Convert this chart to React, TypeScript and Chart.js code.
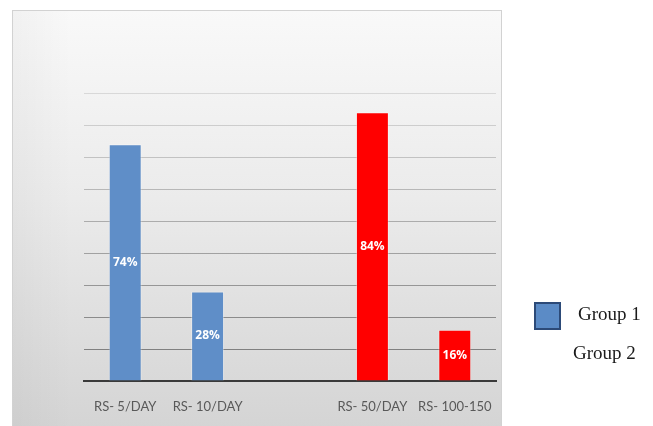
import React, { useEffect, useRef } from "react";
import { Chart, registerables } from "chart.js";

Chart.register(...registerables);

const categories = ["RS- 5/DAY", "RS- 10/DAY", "", "RS- 50/DAY", "RS- 100-150"];
const group1Values = [74, 28, null, null, null];
const group2Values = [null, null, null, 84, 16];
const seriesNames = ["Group 1", "Group 2"];
const yTicks = [0, 10, 20, 30, 40, 50, 60, 70, 80, 90];

const BLUE = "#5f8ec8";
const RED = "#ff0000";

// Gray backdrop panel behind the plot
const panelPlugin = {
  id: "panel",
  beforeDraw(chart: any) {
    const { ctx } = chart;
    const x = 12, y = 10, w = 490, h = 420;
    ctx.save();
    const g = ctx.createLinearGradient(0, y, 0, y + h);
    g.addColorStop(0, "#f9f9f9");
    g.addColorStop(0.45, "#ebebeb");
    g.addColorStop(1, "#d4d4d4");
    ctx.fillStyle = g;
    ctx.fillRect(x, y, w, h);
    const side = ctx.createLinearGradient(x, 0, x + 60, 0);
    side.addColorStop(0, "rgba(0,0,0,0.03)");
    side.addColorStop(1, "rgba(0,0,0,0)");
    ctx.fillStyle = side;
    ctx.fillRect(x, y, 60, h);
    ctx.strokeStyle = "#d2d2d2";
    ctx.lineWidth = 1;
    ctx.strokeRect(x + 0.5, y + 0.5, w - 1, h);
    ctx.restore();
  },
};

// Percent labels centred inside each bar
const barLabelPlugin = {
  id: "barLabels",
  afterDatasetsDraw(chart: any) {
    const { ctx } = chart;
    ctx.save();
    ctx.font = "bold 12px 'Open Sans', sans-serif";
    ctx.fillStyle = "#ffffff";
    ctx.textAlign = "center";
    ctx.textBaseline = "middle";
    chart.data.datasets.forEach((ds: any, di: number) => {
      const meta = chart.getDatasetMeta(di);
      meta.data.forEach((bar: any, i: number) => {
        const v = ds.data[i];
        if (v == null) return;
        const { x, y, base } = bar.getProps(["x", "y", "base"], true);
        ctx.fillText(v + "%", x, (y + base) / 2);
      });
    });
    ctx.restore();
  },
};

// Legend to the right of the panel
const sideLegendPlugin = {
  id: "sideLegend",
  afterDraw(chart: any) {
    const { ctx } = chart;
    ctx.save();
    ctx.fillStyle = "#5b8bc6";
    ctx.fillRect(534, 302, 27, 28);
    ctx.strokeStyle = "#2c4a78";
    ctx.lineWidth = 2;
    ctx.strokeRect(535, 303, 25, 26);
    ctx.font = "19px 'Liberation Serif', serif";
    ctx.fillStyle = "#1a1a1a";
    ctx.textAlign = "left";
    ctx.textBaseline = "middle";
    ctx.fillText(chart.data.datasets[0].label, 578, 315);
    ctx.fillText(chart.data.datasets[1].label, 573, 354);
    ctx.restore();
  },
};

export default function App() {
  const ref = useRef<HTMLCanvasElement | null>(null);

  useEffect(() => {
    if (!ref.current) return;
    const chart = new Chart(ref.current, {
      type: "bar",
      data: {
        labels: categories,
        datasets: [
          {
            label: seriesNames[0],
            data: group1Values,
            backgroundColor: BLUE,
            borderColor: "rgba(255,255,255,0.35)",
            borderWidth: 1,
          },
          {
            label: seriesNames[1],
            data: group2Values,
            backgroundColor: RED,
            borderColor: "rgba(255,255,255,0.35)",
            borderWidth: 1,
          },
        ],
      },
      options: {
        animation: false,
        responsive: false,
        maintainAspectRatio: false,
        barPercentage: 0.4,
        categoryPercentage: 1,
        layout: { padding: { left: 84, right: 157, top: 93, bottom: 0 } },
        plugins: {
          legend: { display: false },
          tooltip: { enabled: false },
        },
        scales: {
          x: {
            stacked: true,
            grid: { display: false },
            border: { display: true, color: "#3a3a3a", width: 2 },
            ticks: {
              color: "#595959",
              font: { family: "Lato", size: 13 },
              padding: 10,
              maxRotation: 0,
            },
            afterFit: (scale: any) => {
              scale.height = 45;
            },
          },
          y: {
            stacked: true,
            min: 0,
            max: 90,
            afterBuildTicks: (scale: any) => {
              scale.ticks = yTicks.map((v) => ({ value: v }));
            },
            ticks: { display: false },
            border: { display: false },
            grid: {
              drawTicks: false,
              lineWidth: 1,
              color: (ctx: any) => {
                const v = ctx.tick ? ctx.tick.value : 0;
                const c = Math.round(128 + ((v - 10) / 80) * 88);
                return `rgb(${c},${c},${c})`;
              },
            },
            afterFit: (scale: any) => {
              scale.width = 0;
            },
          },
        },
      },
      plugins: [panelPlugin, barLabelPlugin, sideLegendPlugin],
    });
    return () => chart.destroy();
  }, []);

  return (
    <div style={{ position: "absolute", left: 0, top: 0, width: 653, height: 426 }}>
      <canvas ref={ref} width={653} height={426} style={{ display: "block" }} />
    </div>
  );
}
